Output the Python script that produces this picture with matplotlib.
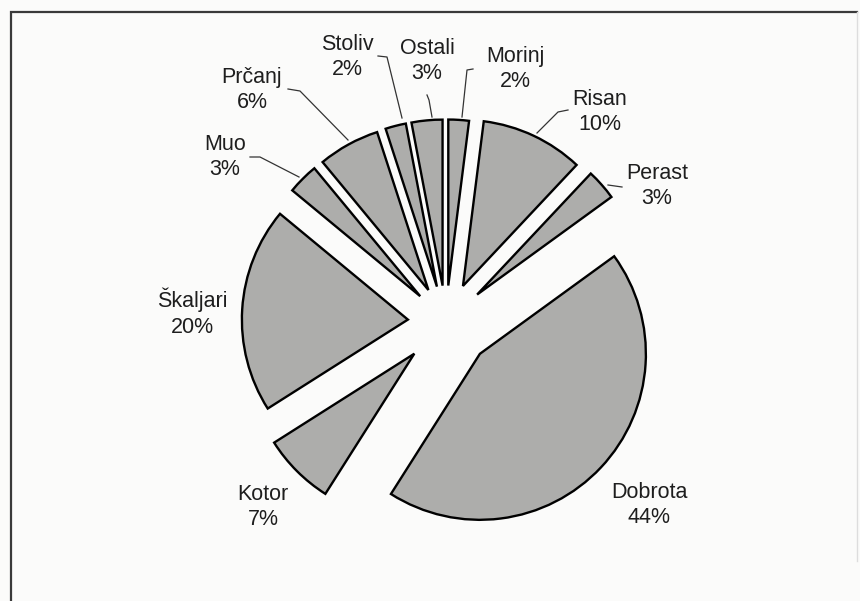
#!/usr/bin/env python3

import matplotlib
matplotlib.use('Agg')
import matplotlib.pyplot as plt

# share per place, clockwise from the top
places = ['Morinj', 'Risan', 'Perast', 'Dobrota', 'Kotor',
          'Škaljari', 'Muo', 'Prčanj', 'Stoliv', 'Ostali']
shares = [2, 10, 3, 44, 7, 20, 3, 6, 2, 3]
# offset of each slice, as a fraction of the radius
explode = [0.22, 0.24, 0.25, 0.28, 0.27, 0.23, 0.22, 0.22, 0.22, 0.22]

W, H = 860, 601
R = 166

# label centres in picture pixels (x, y from top)
label_pos = {
    'Morinj': (515, 69), 'Risan': (600, 112), 'Perast': (657, 186),
    'Dobrota': (649, 505), 'Kotor': (263, 507), 'Škaljari': (192, 313),
    'Muo': (225, 157), 'Prčanj': (252, 90), 'Stoliv': (347, 57),
    'Ostali': (427, 61),
}

# leader lines, picture pixels
leaders = {
    'Prčanj': [(288, 89), (300, 91), (348, 140)],
    'Muo': [(250, 157), (260, 157), (299, 177)],
    'Stoliv': [(378, 56), (387, 57), (402, 118)],
    'Ostali': [(427, 95), (429, 100), (432, 117)],
    'Morinj': [(473, 69), (467, 70), (462, 117)],
    'Risan': [(568, 110), (558, 112), (537, 133)],
    'Perast': [(622, 187), (608, 185)],
}


def main():
    plt.rcParams['font.family'] = ['Liberation Sans', 'DejaVu Sans']

    fig = plt.figure(figsize=(W / 100, H / 100), dpi=100)
    fig.patch.set_facecolor('#fbfbfa')
    ax = fig.add_axes([0, 0, 1, 1])

    # pie() takes explode in data units here, so scale by the radius
    ax.pie(shares, explode=[e * R for e in explode], startangle=90,
           counterclock=False, center=(446, H - 322), radius=R,
           wedgeprops=dict(facecolor='#adadab', edgecolor='black',
                           linewidth=1.7))

    ax.set_xlim(0, W)
    ax.set_ylim(0, H)
    ax.set_aspect('equal')
    ax.axis('off')

    for name, share in zip(places, shares):
        x, y = label_pos[name]
        ax.text(x, H - y, '%s\n%d%%' % (name, share), ha='center',
                va='center', fontsize=15.5, color='#1e1e1e',
                linespacing=1.3)

    for name, pts in leaders.items():
        xs = [p[0] for p in pts]
        ys = [H - p[1] for p in pts]
        ax.plot(xs, ys, color='#333333', linewidth=0.9)

    # scanned frame
    ax.plot([11, 11, 857], [-5, H - 12, H - 12], color='#3a3a3a',
            linewidth=1.6, solid_joinstyle='miter')
    ax.plot([857, 857], [H - 12, 40], color='#dddddd', linewidth=1.0)

    fig.savefig('out.png', dpi=100, facecolor=fig.get_facecolor())


if __name__ == '__main__':
    main()
